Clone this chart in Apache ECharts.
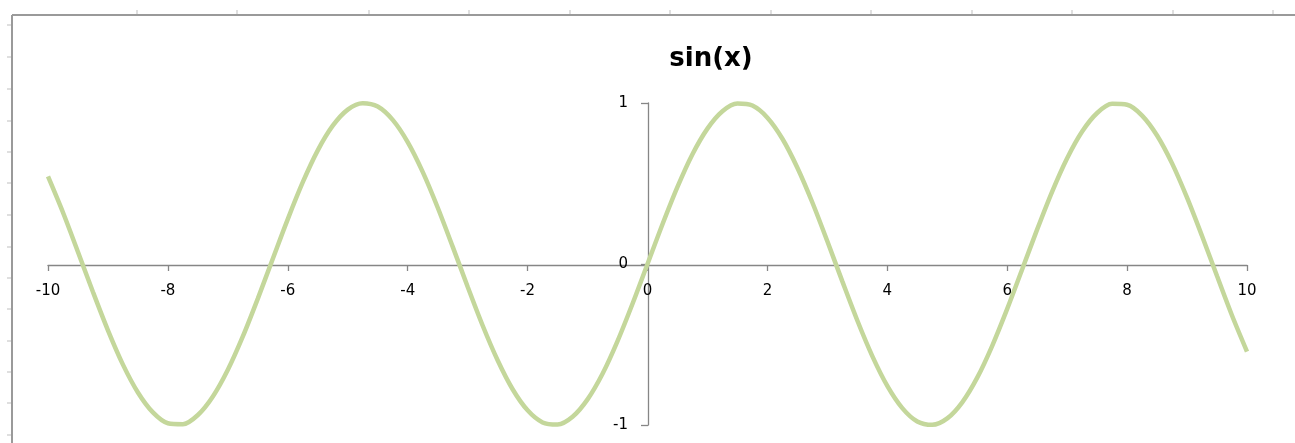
<!DOCTYPE html>
<html>
<head>
<meta charset="utf-8">
<title>sin(x)</title>
<script src="https://cdn.jsdelivr.net/npm/echarts@6/dist/echarts.min.js"></script>
<style>
    html, body { margin: 0; padding: 0; background: #fff; }
    #main { width: 1295px; height: 443px; }
</style>
</head>
<body>
<div id="main"></div>
<script>
// x 取值（-10 到 10）
let xValues = [
    -10, -9.75, -9.5, -9.25, -9, -8.75, -8.5, -8.25, -8, -7.75,
    -7.5, -7.25, -7, -6.75, -6.5, -6.25, -6, -5.75, -5.5, -5.25,
    -5, -4.75, -4.5, -4.25, -4, -3.75, -3.5, -3.25, -3, -2.75,
    -2.5, -2.25, -2, -1.75, -1.5, -1.25, -1, -0.75, -0.5, -0.25,
    0,
    0.25, 0.5, 0.75, 1, 1.25, 1.5, 1.75, 2, 2.25, 2.5,
    2.75, 3, 3.25, 3.5, 3.75, 4, 4.25, 4.5, 4.75, 5,
    5.25, 5.5, 5.75, 6, 6.25, 6.5, 6.75, 7, 7.25, 7.5,
    7.75, 8, 8.25, 8.5, 8.75, 9, 9.25, 9.5, 9.75, 10
];
// sin(x) 值
let sinValues = [
    0.544, 0.320, 0.075, -0.174, -0.412, -0.625, -0.798, -0.922, -0.989, -0.995,
    -0.938, -0.823, -0.657, -0.450, -0.215, 0.033, 0.279, 0.508, 0.706, 0.859,
    0.959, 0.999, 0.978, 0.895, 0.757, 0.572, 0.351, 0.108, -0.141, -0.382,
    -0.598, -0.778, -0.909, -0.984, -0.997, -0.949, -0.841, -0.682, -0.479, -0.247,
    0,
    0.247, 0.479, 0.682, 0.841, 0.949, 0.997, 0.984, 0.909, 0.778, 0.598,
    0.382, 0.141, -0.108, -0.351, -0.572, -0.757, -0.895, -0.978, -0.999, -0.959,
    -0.859, -0.706, -0.508, -0.279, -0.033, 0.215, 0.450, 0.657, 0.823, 0.938,
    0.995, 0.989, 0.922, 0.798, 0.625, 0.412, 0.174, -0.075, -0.320, -0.544
];
let titleText = 'sin(x)';

let seriesData = xValues.map(function (x, i) {
    return [x, sinValues[i]];
});

/*------------------------------------------------------------------
 表格边框（截图里 Excel 的外框和刻度）
------------------------------------------------------------------*/
let frameColor = '#9a9a9a';
let rulerColor = '#d4d4d4';
let rulerTop = [137, 237, 369, 469, 570, 670, 771, 871, 972, 1072, 1173, 1273];
let rulerLeft = [25, 57, 89, 121, 152, 183, 215, 247, 278, 309, 341, 372, 403, 435];
let graphic = [
    { type: 'line', shape: { x1: 12, y1: 15, x2: 1295, y2: 15 }, style: { stroke: frameColor, lineWidth: 2 } },
    { type: 'line', shape: { x1: 12, y1: 15, x2: 12, y2: 443 }, style: { stroke: frameColor, lineWidth: 2 } }
];
rulerTop.forEach(function (x) {
    graphic.push({ type: 'line', shape: { x1: x, y1: 10, x2: x, y2: 14 }, style: { stroke: rulerColor, lineWidth: 1.5 } });
});
rulerLeft.forEach(function (y) {
    graphic.push({ type: 'line', shape: { x1: 7, y1: y, x2: 11, y2: y }, style: { stroke: rulerColor, lineWidth: 1.5 } });
});

let myChart = echarts.init(document.getElementById('main'));
let axisColor = '#868686';
let labelStyle = {
    color: '#000',
    fontSize: 15,
    fontFamily: 'DejaVu Sans'
};

// 坐标轴画在 0 处：网格 48..1247 / 103..425，用 offset 把轴移到中间
let option = {
    animation: false,
    backgroundColor: '#fff',
    title: {
        text: titleText,
        left: 706,
        top: 41,
        textAlign: 'center',
        textStyle: {
            fontFamily: 'DejaVu Sans',
            fontWeight: 'bold',
            fontSize: 26,
            color: '#000'
        }
    },
    graphic: graphic,
    grid: {
        left: 48,
        right: 48,
        top: 103,
        bottom: 18,
        containLabel: false,
        outerBoundsMode: 'none'
    },
    xAxis: {
        type: 'value',
        position: 'bottom',
        offset: -160,
        min: -10,
        max: 10,
        interval: 2,
        splitLine: { show: false },
        axisLine: { onZero: false, lineStyle: { color: axisColor, width: 1.3 } },
        axisTick: { show: true, length: 6, lineStyle: { color: axisColor, width: 1.3 } },
        axisLabel: Object.assign({ margin: 19 }, labelStyle)
    },
    yAxis: {
        type: 'value',
        position: 'left',
        offset: -600,
        min: -1,
        max: 1,
        interval: 1,
        splitLine: { show: false },
        axisLine: { show: true, onZero: false, lineStyle: { color: axisColor, width: 1.3 } },
        axisTick: { show: true, length: 7, lineStyle: { color: axisColor, width: 1.3 } },
        axisLabel: Object.assign({ margin: 20 }, labelStyle)
    },
    series: [{
        name: titleText,
        type: 'line',
        data: seriesData,
        showSymbol: false,
        smooth: 0.3,
        lineStyle: {
            color: '#c4d79b',
            width: 4.5
        }
    }]
};
myChart.setOption(option);
</script>
</body>
</html>
